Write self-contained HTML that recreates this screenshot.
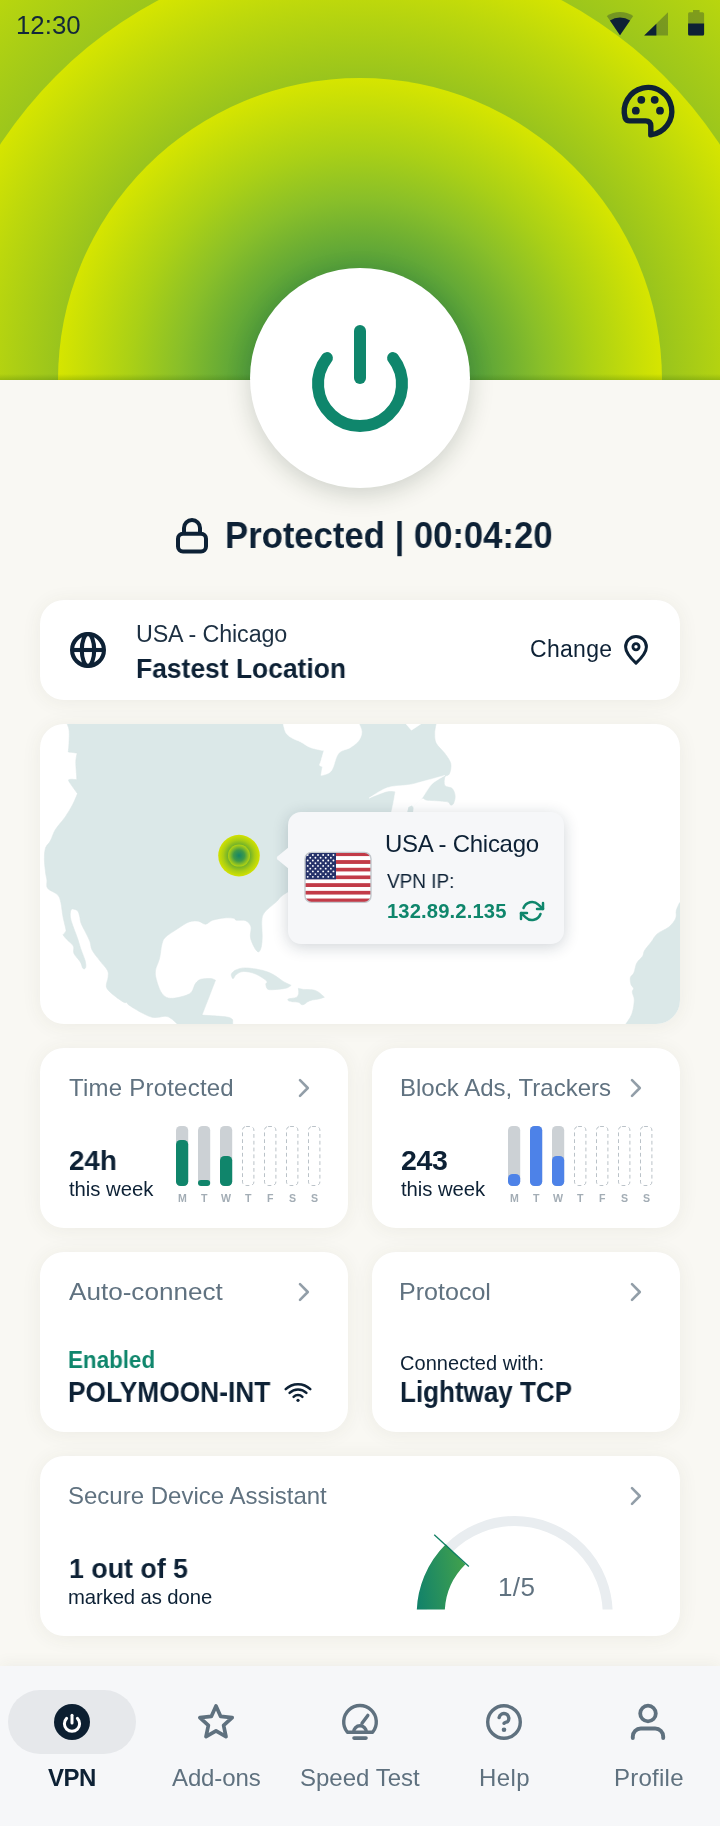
<!DOCTYPE html>
<html><head><meta charset="utf-8"><title>VPN</title>
<style>
*{margin:0;padding:0;box-sizing:border-box}
html,body{width:720px;height:1826px;overflow:hidden}
body{background:#f9f8f3;font-family:"Liberation Sans",sans-serif;position:relative;color:#0f2336}
.t{position:absolute;white-space:nowrap;line-height:1;will-change:transform}
.abs{position:absolute}
.card{position:absolute;background:#fff;border-radius:24px;box-shadow:0 2px 20px rgba(70,70,40,0.07)}
svg{position:absolute;overflow:visible}
</style></head>
<body>
<svg style="left:0;top:0" width="720" height="380" viewBox="0 0 720 380">
<defs>
<radialGradient id="g1" gradientUnits="userSpaceOnUse" cx="360" cy="380" r="302">
<stop offset="0" stop-color="#2e8846"/><stop offset="0.36" stop-color="#519e3d"/><stop offset="0.6" stop-color="#89bf29"/><stop offset="0.76" stop-color="#aad016"/><stop offset="1" stop-color="#d6e500"/>
</radialGradient>
<radialGradient id="g2" gradientUnits="userSpaceOnUse" cx="360" cy="380" r="430">
<stop offset="0.5" stop-color="#6aa92e"/><stop offset="0.702" stop-color="#99c41d"/><stop offset="0.884" stop-color="#bdd80c"/><stop offset="1" stop-color="#d6e500"/>
</radialGradient>
<radialGradient id="g3" gradientUnits="userSpaceOnUse" cx="360" cy="380" r="570">
<stop offset="0.6" stop-color="#80b626"/><stop offset="0.754" stop-color="#9cc61c"/><stop offset="0.918" stop-color="#b8d60e"/><stop offset="1" stop-color="#c6dd08"/>
</radialGradient>
<linearGradient id="hb" x1="0" y1="0" x2="0" y2="1"><stop offset="0" stop-color="#2c5a00" stop-opacity="0"/><stop offset="1" stop-color="#2c5a00" stop-opacity="0.22"/></linearGradient>
<clipPath id="hc"><rect x="0" y="0" width="720" height="380"/></clipPath>
</defs>
<g clip-path="url(#hc)">
<rect x="0" y="0" width="720" height="380" fill="url(#g3)"/>
<circle cx="360" cy="380" r="430" fill="url(#g2)"/>
<circle cx="360" cy="380" r="302" fill="url(#g1)"/>
<rect x="0" y="374" width="720" height="6" fill="url(#hb)"/>
</g>
</svg>
<div class="t" style="left:15.63px;top:13.09px;font-size:25px;color:#13283a;transform:scaleX(1.0326);transform-origin:0 0;">12:30</div>
<svg style="left:600px;top:0" width="120" height="50" viewBox="600 0 120 50">
<path d="M620 35.2 L606.8 16.0 A23.3 23.3 0 0 1 633.2 16.0 Z" fill="#0d2135" fill-opacity="0.3"/>
<path d="M620 35.2 L609.9 20.6 A17.7 17.7 0 0 1 630.1 20.6 Z" fill="#0d2135"/>
<path d="M644.2 35.6 L668 35.6 L668 12.3 Z" fill="#0d2135" fill-opacity="0.3"/>
<path d="M644.2 35.6 L656.4 35.6 L656.4 23.7 Z" fill="#0d2135"/>
<path d="M693 10 h6.6 v2.3 h3 a1.5 1.5 0 0 1 1.5 1.5 v20.3 a1.5 1.5 0 0 1 -1.5 1.5 h-13 a1.5 1.5 0 0 1 -1.5 -1.5 v-20.3 a1.5 1.5 0 0 1 1.5 -1.5 h3.4 Z" fill="#0d2135" fill-opacity="0.3"/>
<path d="M688.1 23.5 h16 v10.6 a1.5 1.5 0 0 1 -1.5 1.5 h-13 a1.5 1.5 0 0 1 -1.5 -1.5 Z" fill="#0d2135"/>
</svg>
<svg style="left:608px;top:72px" width="80" height="80" viewBox="608 72 80 80">
<path d="M650.8 134.9 A23.8 23.8 0 1 0 625.2 118.0 Q626.3 120.9 629.5 120.9 L645.6 120.9 Q650.8 120.9 650.8 126.1 Z" fill="none" stroke="#0d2135" stroke-width="5.4" stroke-linejoin="round"/>
<circle cx="641.3" cy="99.8" r="3.9" fill="#0d2135"/><circle cx="654.7" cy="99.8" r="3.9" fill="#0d2135"/>
<circle cx="635.8" cy="110.7" r="3.9" fill="#0d2135"/><circle cx="660" cy="110.7" r="3.9" fill="#0d2135"/>
</svg>
<div class="abs" style="left:250px;top:268px;width:220px;height:220px;border-radius:50%;background:#fff;box-shadow:0 6px 24px rgba(20,40,20,0.19)"></div>
<svg style="left:250px;top:268px" width="220" height="220" viewBox="250 268 220 220">
<path d="M360 331 V378" stroke="#0f866c" stroke-width="12" stroke-linecap="round" fill="none"/>
<path d="M326.9 358.1 A42 42 0 1 0 393.1 358.1" stroke="#0f866c" stroke-width="12" stroke-linecap="round" fill="none"/>
</svg>
<svg style="left:170px;top:510px" width="50" height="50" viewBox="170 510 50 50">
<rect x="178" y="533.7" width="28" height="17.8" rx="5" fill="none" stroke="#0d2135" stroke-width="4"/>
<path d="M184 534 V528 a8 8 0 0 1 16 0 V534" fill="none" stroke="#0d2135" stroke-width="4"/>
</svg>
<div class="t" style="left:224.58px;top:516.68px;font-size:37.3px;color:#0d2135;font-weight:700;transform:scaleX(0.9293);transform-origin:0 0;">Protected | 00:04:20</div>
<div class="card" style="left:40px;top:600px;width:640px;height:100px"></div>
<svg style="left:60px;top:622px" width="56" height="56" viewBox="60 622 56 56">
<g fill="none" stroke="#0d2135" stroke-width="4.1">
<circle cx="88" cy="650" r="15.95"/>
<path d="M72 650 H104"/>
<ellipse cx="88" cy="650" rx="6.2" ry="15.95"/>
</g></svg>
<div class="t" style="left:135.55px;top:622.53px;font-size:23.3px;color:#1d3042;letter-spacing:-0.129px;">USA - Chicago</div>
<div class="t" style="left:135.81px;top:655.14px;font-size:27.3px;color:#0d2135;font-weight:700;transform:scaleX(0.9683);transform-origin:0 0;">Fastest Location</div>
<div class="t" style="left:530.05px;top:637.78px;font-size:23px;color:#0d2135;letter-spacing:0.290px;">Change</div>
<svg style="left:620px;top:630px" width="32" height="40" viewBox="620 630 32 40">
<path d="M636 663.2 C628 655.5 625.6 651 625.6 646.9 A10.4 10.4 0 0 1 646.4 646.9 C646.4 651 644 655.5 636 663.2 Z" fill="none" stroke="#0d2135" stroke-width="3" stroke-linejoin="round"/>
<circle cx="636" cy="646.8" r="3.1" fill="none" stroke="#0d2135" stroke-width="2.8"/>
</svg>
<div class="card" style="left:40px;top:724px;width:640px;height:300px;overflow:hidden"></div>
<svg style="left:40px;top:724px" width="640" height="300" viewBox="40 724 640 300">
<defs><clipPath id="mc"><rect x="40" y="724" width="640" height="300" rx="24"/></clipPath>
<radialGradient id="mk1"><stop offset="0.45" stop-color="#5aa634"/><stop offset="0.75" stop-color="#a9cd14"/><stop offset="1" stop-color="#d2e200"/></radialGradient>
<radialGradient id="mk2"><stop offset="0" stop-color="#148468"/><stop offset="0.5" stop-color="#3f9a48"/><stop offset="1" stop-color="#b4d410"/></radialGradient>
</defs>
<g clip-path="url(#mc)">
<g fill="#dbe8e8" stroke="#dbe8e8" stroke-width="0.6" stroke-linejoin="round">
<path d="M67.1,715.0 C67.1,715.0 67.1,723.9 67.1,723.9 C67.1,723.9 68.9,727.6 69.2,731.1 C69.5,734.6 69.1,741.5 68.9,745.0 C68.7,748.5 68.2,751.9 68.2,751.9 C68.2,751.9 77.2,753.1 77.2,753.1 C77.2,753.1 75.9,758.4 75.8,761.7 C75.7,765.0 76.2,769.8 76.4,772.8 C76.6,775.8 76.8,779.7 76.8,779.7 C76.8,779.7 71.2,779.0 69.9,779.4 C68.6,779.8 67.9,779.4 69.2,781.8 C70.5,784.2 77.5,793.6 77.5,793.6 C77.5,793.6 74.7,800.8 72.6,804.7 C70.5,808.6 67.9,813.0 65.0,817.2 C62.1,821.4 57.7,825.8 55.3,829.7 C52.9,833.6 52.0,837.8 50.4,840.8 C48.8,843.8 46.6,844.8 45.6,847.8 C44.6,850.8 44.4,854.7 44.4,858.9 C44.4,863.1 45.2,869.3 45.6,872.8 C46.0,876.3 46.6,877.4 46.9,880.0 C47.2,882.6 45.9,885.9 47.6,888.3 C49.4,890.7 55.2,892.3 57.4,894.6 C59.6,896.9 59.9,898.6 60.8,902.2 C61.7,905.8 62.1,911.7 62.9,916.1 C63.7,920.5 65.2,926.1 65.7,928.6 C66.2,931.1 66.2,930.4 65.7,931.4 C65.2,932.4 62.9,934.9 62.9,934.9 C62.9,934.9 65.4,937.9 67.1,939.7 C68.8,941.6 72.1,943.7 73.3,946.0 C74.5,948.3 72.8,951.0 74.0,953.6 C75.2,956.2 78.9,959.6 80.3,961.9 C81.7,964.2 81.8,966.3 82.4,967.5 C83.1,968.7 83.6,969.0 84.2,968.9 C84.8,968.8 85.7,968.2 85.8,966.8 C85.9,965.4 85.9,963.5 85.1,960.6 C84.3,957.7 82.3,953.1 81.0,949.4 C79.7,945.7 79.0,942.7 77.5,938.3 C76.0,933.9 73.1,926.8 71.9,923.1 C70.7,919.4 70.5,918.2 70.3,916.1 C70.1,914.0 70.4,911.8 70.8,910.6 C71.2,909.4 71.5,908.9 72.6,908.9 C73.7,908.9 76.3,909.6 77.5,910.8 C78.7,912.0 79.0,914.0 79.6,916.1 C80.2,918.2 80.0,920.3 81.0,923.1 C82.0,925.9 84.3,929.7 85.8,932.8 C87.3,935.9 89.0,938.9 90.0,941.8 C91.0,944.7 90.5,947.0 92.1,950.1 C93.7,953.2 97.2,957.2 99.7,960.6 C102.2,964.0 106.0,967.5 107.4,970.3 C108.8,973.1 108.3,974.4 108.1,977.2 C107.9,980.0 105.7,984.1 106.4,986.9 C107.1,989.7 109.4,991.4 112.2,993.9 C115.0,996.4 120.9,1000.6 123.3,1002.0 C125.7,1003.4 125.9,1002.0 126.8,1002.5 C127.7,1003.0 126.4,1003.3 128.9,1005.0 C131.4,1006.7 137.7,1010.7 141.8,1012.8 C145.9,1014.9 149.7,1016.9 153.6,1017.5 C157.5,1018.1 162.4,1016.1 165.4,1016.3 C168.4,1016.5 169.3,1017.4 171.3,1018.7 C173.3,1020.0 177.2,1023.9 177.2,1023.9 C177.2,1023.9 177.2,1032.0 177.2,1032.0 C177.2,1032.0 232.7,1032.0 232.7,1032.0 C232.7,1032.0 232.7,1019.9 232.7,1019.9 C232.7,1019.9 231.9,1017.8 226.8,1017.0 C221.7,1016.2 202.0,1015.1 202.0,1015.1 C202.0,1015.1 215.5,980.2 215.5,980.2 C215.5,980.2 212.8,978.6 210.3,978.5 C207.9,978.4 203.2,978.5 200.8,979.3 C198.4,980.1 197.1,981.3 195.6,983.3 C194.1,985.3 193.4,989.5 191.9,991.5 C190.4,993.5 189.5,994.0 186.7,995.1 C183.9,996.2 178.2,997.7 174.9,998.1 C171.6,998.5 169.0,998.5 166.6,997.4 C164.2,996.3 162.4,994.5 160.7,991.5 C159.0,988.5 157.3,983.2 156.4,979.7 C155.5,976.2 155.0,973.8 155.5,970.3 C156.0,966.8 158.4,962.8 159.5,958.5 C160.6,954.2 160.9,947.8 161.9,944.3 C162.9,940.8 162.9,939.8 165.4,937.2 C167.9,934.7 173.3,931.5 177.2,929.0 C181.1,926.5 185.4,923.2 189.0,921.9 C192.6,920.6 195.7,920.8 198.5,921.2 C201.3,921.6 203.2,924.4 205.6,924.2 C207.9,924.0 209.4,921.2 212.6,920.2 C215.8,919.2 220.9,918.2 224.5,917.9 C228.1,917.6 231.9,917.9 233.9,918.3 C235.9,918.7 234.3,919.8 236.3,920.2 C238.3,920.6 243.3,919.6 245.7,920.7 C248.1,921.8 250.1,923.9 250.9,926.6 C251.7,929.4 249.9,933.9 250.4,937.2 C250.9,940.6 252.7,944.2 254.0,946.7 C255.3,949.2 257.0,951.7 258.2,951.9 C259.4,952.1 260.3,950.3 261.0,947.9 C261.7,945.5 262.1,941.7 262.2,937.2 C262.3,932.7 261.4,924.8 261.8,920.7 C262.2,916.6 262.2,915.5 264.6,912.4 C267.0,909.2 272.7,905.1 276.4,901.8 C280.1,898.5 278.1,897.7 287.0,892.4 C295.9,887.1 330.0,870.0 330.0,870.0 C330.0,870.0 400.0,830.0 400.0,830.0 C400.0,830.0 412.8,807.5 412.8,807.5 C412.8,807.5 419.2,799.9 421.6,798.7 C424.0,797.5 423.3,799.7 427.4,800.2 C431.5,800.7 442.5,800.8 446.4,801.6 C450.3,802.4 449.6,804.9 450.8,805.1 C452.0,805.4 453.0,804.7 453.7,803.1 C454.4,801.5 455.4,798.2 455.1,795.8 C454.9,793.4 453.9,790.2 452.2,788.5 C450.5,786.8 446.1,787.5 444.9,785.6 C443.7,783.7 444.2,778.9 444.9,776.9 C445.6,774.9 448.3,776.1 449.3,773.9 C450.3,771.7 451.5,767.1 450.8,763.7 C450.1,760.3 447.3,756.9 444.9,753.5 C442.5,750.1 437.9,746.7 436.2,743.3 C434.5,739.9 434.7,736.4 434.7,733.1 C434.7,729.8 436.2,723.5 436.2,723.5 C436.2,723.5 436.2,715.0 436.2,715.0 C436.2,715.0 67.1,715.0 67.1,715.0 Z"/><path d="M232.0,977.4 C231.7,976.6 230.8,975.1 231.5,973.8 C232.2,972.5 233.9,970.8 236.3,969.8 C238.7,968.8 241.4,967.8 245.7,967.9 C250.0,968.0 257.5,969.1 262.2,970.3 C266.9,971.5 270.5,973.1 274.0,975.0 C277.5,976.9 280.4,979.8 283.3,981.5 C286.2,983.2 291.2,985.3 291.2,985.3 C291.2,985.3 289.1,987.3 286.7,988.0 C284.3,988.7 279.8,989.2 276.7,989.4 C273.6,989.6 269.9,990.2 268.1,989.4 C266.3,988.6 266.1,985.8 265.8,984.4 C265.5,983.0 268.3,982.7 266.5,980.9 C264.7,979.1 259.0,975.4 255.1,973.8 C251.2,972.2 246.4,971.4 243.3,971.5 C240.2,971.6 238.0,973.3 236.3,974.5 C234.7,975.7 234.1,978.0 233.4,978.5 C232.7,979.0 232.3,978.2 232.0,977.4 Z"/><path d="M298.3,988.3 C298.3,988.3 301.0,989.1 303.3,989.4 C305.6,989.6 309.8,989.4 312.2,989.8 C314.6,990.2 315.8,990.5 317.8,991.7 C319.8,992.9 324.4,997.2 324.4,997.2 C324.4,997.2 320.9,998.4 318.9,998.9 C316.9,999.4 314.0,999.5 312.2,1000.0 C310.4,1000.5 309.1,1001.0 307.8,1001.7 C306.5,1002.4 305.4,1003.7 304.4,1004.2 C303.4,1004.7 302.7,1005.0 301.7,1004.7 C300.7,1004.4 299.9,1002.7 298.3,1002.2 C296.7,1001.7 293.9,1002.0 292.2,1001.7 C290.5,1001.4 288.9,1001.1 288.3,1000.6 C287.7,1000.1 287.7,999.3 288.3,998.9 C288.9,998.5 290.8,998.6 292.2,998.3 C293.6,998.0 295.6,998.0 296.7,997.2 C297.8,996.4 298.4,994.8 298.7,993.3 C299.0,991.8 298.3,988.3 298.3,988.3 Z"/><path d="M690.0,895.0 C690.0,895.0 679.6,902.8 679.6,902.8 C679.6,902.8 676.9,908.0 676.3,910.6 C675.6,913.2 676.9,915.6 675.7,918.3 C674.5,921.0 672.0,924.4 668.9,927.0 C665.8,929.6 660.1,931.4 657.2,933.9 C654.3,936.4 653.5,939.0 651.4,941.7 C649.3,944.5 646.1,948.0 644.6,950.4 C643.1,952.8 643.9,954.1 642.6,956.2 C641.3,958.3 638.2,960.2 636.8,963.0 C635.3,965.8 635.0,970.4 633.9,972.8 C632.8,975.2 630.9,975.7 630.4,977.6 C629.9,979.5 630.5,982.6 631.0,984.4 C631.5,986.2 633.3,987.0 633.5,988.3 C633.7,989.6 632.2,990.2 632.3,992.2 C632.4,994.2 634.3,996.4 634.3,1000.0 C634.2,1003.6 633.4,1009.6 632.0,1013.6 C630.6,1017.6 626.0,1023.7 626.0,1023.7 C626.0,1023.7 626.0,1032.0 626.0,1032.0 C626.0,1032.0 690.0,1032.0 690.0,1032.0 C690.0,1032.0 690.0,895.0 690.0,895.0 Z"/>
</g>
<g fill="#fff" stroke="#fff" stroke-width="0.5" stroke-linejoin="round"><path d="M283.1,715.0 C283.1,715.0 283.1,723.5 283.1,723.5 C283.1,723.5 284.5,730.6 286.0,733.0 C287.5,735.4 289.5,736.5 291.9,738.0 C294.3,739.5 297.5,740.3 300.6,741.9 C303.8,743.5 306.9,746.2 310.8,747.7 C314.7,749.2 323.9,750.6 323.9,750.6 C323.9,750.6 321.7,758.4 321.0,760.8 C320.3,763.2 319.4,764.2 319.6,765.2 C319.9,766.2 322.5,766.6 322.5,766.6 C322.5,766.6 321.0,775.4 321.0,775.4 C321.0,775.4 328.3,774.6 331.2,771.0 C334.1,767.4 335.3,757.4 338.5,753.5 C341.7,749.6 346.8,749.9 350.2,747.7 C353.6,745.5 357.0,743.1 358.9,740.4 C360.8,737.7 361.8,734.5 361.8,731.7 C361.8,728.9 358.9,723.5 358.9,723.5 C358.9,723.5 358.9,715.0 358.9,715.0 C358.9,715.0 283.1,715.0 283.1,715.0 Z"/><path d="M405.6,715 L405.6,723.5 L411.4,730.2 L421.6,723.5 L421.6,715 Z"/><path d="M444.9,775.4 C444.9,775.4 434.7,778.2 428.9,779.8 C423.1,781.3 416.0,783.6 409.9,784.7 C403.8,785.8 397.0,785.6 392.4,786.5 C387.8,787.4 386.1,788.1 382.2,790.0 C378.3,791.9 369.1,798.1 369.1,798.1 C369.1,798.1 382.2,792.5 386.6,791.4 C391.0,790.3 395.4,791.4 395.4,791.4 C395.4,791.4 394.6,796.4 393.9,800.2 C393.2,804.0 391.0,814.0 391.0,814.0 C391.0,814.0 412.8,814.0 412.8,814.0 C412.8,814.0 412.8,807.5 412.8,807.5 C412.8,807.5 419.2,801.6 421.6,798.7 C424.0,795.8 425.4,792.7 427.4,790.0 C429.3,787.3 430.4,785.1 433.3,782.7 C436.2,780.3 444.9,775.4 444.9,775.4 Z"/></g>
<path d="M407,813 L408.5,807 L412,805.5 L413.5,808 L413,813 Z" fill="#dbe8e8"/>
<circle cx="239" cy="855.6" r="20.8" fill="url(#mk1)"/>
<circle cx="239" cy="855.6" r="11" fill="url(#mk2)"/>
</g></svg>
<div class="abs" style="left:288px;top:812px;width:276px;height:131.5px;border-radius:13px;background:#f6f7f9;box-shadow:0 3px 16px rgba(20,40,60,0.2)"></div>
<svg style="left:270px;top:840px" width="20" height="34" viewBox="270 840 20 34"><path d="M289 847 L277.4 856.6 Q276 858 277.4 859.4 L289 869 Z" fill="#f6f7f9"/></svg>
<svg style="left:300px;top:848px" width="76" height="60" viewBox="300 848 76 60">
<defs><clipPath id="fc"><rect x="305" y="852.4" width="66" height="50" rx="6.5"/></clipPath></defs>
<g clip-path="url(#fc)"><rect x="305" y="852.40" width="66" height="3.90" fill="#c23b48"/><rect x="305" y="856.25" width="66" height="3.90" fill="#fff"/><rect x="305" y="860.09" width="66" height="3.90" fill="#c23b48"/><rect x="305" y="863.94" width="66" height="3.90" fill="#fff"/><rect x="305" y="867.78" width="66" height="3.90" fill="#c23b48"/><rect x="305" y="871.63" width="66" height="3.90" fill="#fff"/><rect x="305" y="875.48" width="66" height="3.90" fill="#c23b48"/><rect x="305" y="879.32" width="66" height="3.90" fill="#fff"/><rect x="305" y="883.17" width="66" height="3.90" fill="#c23b48"/><rect x="305" y="887.02" width="66" height="3.90" fill="#fff"/><rect x="305" y="890.86" width="66" height="3.90" fill="#c23b48"/><rect x="305" y="894.71" width="66" height="3.90" fill="#fff"/><rect x="305" y="898.55" width="66" height="3.90" fill="#c23b48"/><rect x="305" y="852.4" width="31" height="26.92" fill="#26326a"/><circle cx="307.70" cy="855.00" r="0.95" fill="#fff"/><circle cx="312.85" cy="855.00" r="0.95" fill="#fff"/><circle cx="318.00" cy="855.00" r="0.95" fill="#fff"/><circle cx="323.15" cy="855.00" r="0.95" fill="#fff"/><circle cx="328.30" cy="855.00" r="0.95" fill="#fff"/><circle cx="333.45" cy="855.00" r="0.95" fill="#fff"/><circle cx="310.27" cy="857.73" r="0.95" fill="#fff"/><circle cx="315.43" cy="857.73" r="0.95" fill="#fff"/><circle cx="320.57" cy="857.73" r="0.95" fill="#fff"/><circle cx="325.73" cy="857.73" r="0.95" fill="#fff"/><circle cx="330.88" cy="857.73" r="0.95" fill="#fff"/><circle cx="307.70" cy="860.46" r="0.95" fill="#fff"/><circle cx="312.85" cy="860.46" r="0.95" fill="#fff"/><circle cx="318.00" cy="860.46" r="0.95" fill="#fff"/><circle cx="323.15" cy="860.46" r="0.95" fill="#fff"/><circle cx="328.30" cy="860.46" r="0.95" fill="#fff"/><circle cx="333.45" cy="860.46" r="0.95" fill="#fff"/><circle cx="310.27" cy="863.19" r="0.95" fill="#fff"/><circle cx="315.43" cy="863.19" r="0.95" fill="#fff"/><circle cx="320.57" cy="863.19" r="0.95" fill="#fff"/><circle cx="325.73" cy="863.19" r="0.95" fill="#fff"/><circle cx="330.88" cy="863.19" r="0.95" fill="#fff"/><circle cx="307.70" cy="865.92" r="0.95" fill="#fff"/><circle cx="312.85" cy="865.92" r="0.95" fill="#fff"/><circle cx="318.00" cy="865.92" r="0.95" fill="#fff"/><circle cx="323.15" cy="865.92" r="0.95" fill="#fff"/><circle cx="328.30" cy="865.92" r="0.95" fill="#fff"/><circle cx="333.45" cy="865.92" r="0.95" fill="#fff"/><circle cx="310.27" cy="868.65" r="0.95" fill="#fff"/><circle cx="315.43" cy="868.65" r="0.95" fill="#fff"/><circle cx="320.57" cy="868.65" r="0.95" fill="#fff"/><circle cx="325.73" cy="868.65" r="0.95" fill="#fff"/><circle cx="330.88" cy="868.65" r="0.95" fill="#fff"/><circle cx="307.70" cy="871.38" r="0.95" fill="#fff"/><circle cx="312.85" cy="871.38" r="0.95" fill="#fff"/><circle cx="318.00" cy="871.38" r="0.95" fill="#fff"/><circle cx="323.15" cy="871.38" r="0.95" fill="#fff"/><circle cx="328.30" cy="871.38" r="0.95" fill="#fff"/><circle cx="333.45" cy="871.38" r="0.95" fill="#fff"/><circle cx="310.27" cy="874.11" r="0.95" fill="#fff"/><circle cx="315.43" cy="874.11" r="0.95" fill="#fff"/><circle cx="320.57" cy="874.11" r="0.95" fill="#fff"/><circle cx="325.73" cy="874.11" r="0.95" fill="#fff"/><circle cx="330.88" cy="874.11" r="0.95" fill="#fff"/><circle cx="307.70" cy="876.84" r="0.95" fill="#fff"/><circle cx="312.85" cy="876.84" r="0.95" fill="#fff"/><circle cx="318.00" cy="876.84" r="0.95" fill="#fff"/><circle cx="323.15" cy="876.84" r="0.95" fill="#fff"/><circle cx="328.30" cy="876.84" r="0.95" fill="#fff"/><circle cx="333.45" cy="876.84" r="0.95" fill="#fff"/></g>
<rect x="305" y="852.4" width="66" height="50" rx="6.5" fill="none" stroke="#c3c8cd" stroke-width="1.4"/>
</svg>
<div class="t" style="left:385.05px;top:831.93px;font-size:24px;color:#0d2135;letter-spacing:-0.275px;">USA - Chicago</div>
<div class="t" style="left:387.00px;top:871.74px;font-size:19.5px;color:#0d2135;transform:scaleX(0.9712);transform-origin:0 0;">VPN IP:</div>
<div class="t" style="left:386.75px;top:901.15px;font-size:20.2px;color:#0f866c;font-weight:700;letter-spacing:0.136px;">132.89.2.135</div>
<svg style="left:520px;top:899.2px" width="24" height="24" viewBox="0 0 24 24" fill="none" stroke="#0f866c" stroke-width="2.5" stroke-linecap="round" stroke-linejoin="round">
<polyline points="23 4 23 10 17 10"/><polyline points="1 20 1 14 7 14"/>
<path d="M3.51 9a9 9 0 0 1 14.85-3.36L23 10M1 14l4.64 4.36A9 9 0 0 0 20.49 15"/></svg>
<div class="card" style="left:40px;top:1048px;width:308px;height:180px"></div>
<div class="card" style="left:372px;top:1048px;width:308px;height:180px"></div>
<div class="t" style="left:68.50px;top:1075.93px;font-size:24px;color:#607280;letter-spacing:0.219px;">Time Protected</div>
<svg style="left:296px;top:1075.8px" width="20" height="24" viewBox="296 1075.8 20 24"><path d="M300 1080.0 L307.8 1087.8 L300 1095.6" fill="none" stroke="#929ea8" stroke-width="2.6" stroke-linecap="round" stroke-linejoin="round"/></svg>
<div class="t" style="left:68.53px;top:1146.12px;font-size:28.5px;color:#0d2135;font-weight:700;transform:scaleX(0.9742);transform-origin:0 0;">24h</div>
<div class="t" style="left:68.75px;top:1179.07px;font-size:20.3px;color:#0d2135;letter-spacing:-0.025px;">this week</div>
<svg style="left:173.8px;top:1123.7px" width="150" height="64" viewBox="173.8 1123.7 150 64"><rect x="175.8" y="1125.7" width="12.2" height="60" rx="4.6" fill="#ccd1d5"/><rect x="175.8" y="1139.7" width="12.2" height="46" rx="4.6" fill="#10856b"/><rect x="197.8" y="1125.7" width="12.2" height="60" rx="4.6" fill="#ccd1d5"/><rect x="197.8" y="1179.7" width="12.2" height="6" rx="3.0" fill="#10856b"/><rect x="219.8" y="1125.7" width="12.2" height="60" rx="4.6" fill="#ccd1d5"/><rect x="219.8" y="1155.7" width="12.2" height="30" rx="4.6" fill="#10856b"/><rect x="242.3" y="1126.2" width="11.4" height="59" rx="3.6" fill="none" stroke="#bac2c8" stroke-width="1" stroke-dasharray="3.8 3"/><rect x="264.3" y="1126.2" width="11.4" height="59" rx="3.6" fill="none" stroke="#bac2c8" stroke-width="1" stroke-dasharray="3.8 3"/><rect x="286.3" y="1126.2" width="11.4" height="59" rx="3.6" fill="none" stroke="#bac2c8" stroke-width="1" stroke-dasharray="3.8 3"/><rect x="308.3" y="1126.2" width="11.4" height="59" rx="3.6" fill="none" stroke="#bac2c8" stroke-width="1" stroke-dasharray="3.8 3"/></svg>
<div class="t" style="left:177.53px;top:1193.28px;font-size:10.6px;color:#a3adb5;font-weight:700;">M</div>
<div class="t" style="left:200.78px;top:1193.28px;font-size:10.6px;color:#a3adb5;font-weight:700;">T</div>
<div class="t" style="left:220.90px;top:1193.28px;font-size:10.6px;color:#a3adb5;font-weight:700;">W</div>
<div class="t" style="left:244.78px;top:1193.28px;font-size:10.6px;color:#a3adb5;font-weight:700;">T</div>
<div class="t" style="left:266.53px;top:1193.28px;font-size:10.6px;color:#a3adb5;font-weight:700;">F</div>
<div class="t" style="left:288.53px;top:1193.28px;font-size:10.6px;color:#a3adb5;font-weight:700;">S</div>
<div class="t" style="left:310.53px;top:1193.28px;font-size:10.6px;color:#a3adb5;font-weight:700;">S</div>
<div class="t" style="left:399.50px;top:1075.93px;font-size:24px;color:#607280;letter-spacing:0.017px;">Block Ads, Trackers</div>
<svg style="left:628px;top:1075.8px" width="20" height="24" viewBox="628 1075.8 20 24"><path d="M632 1080.0 L639.8 1087.8 L632 1095.6" fill="none" stroke="#929ea8" stroke-width="2.6" stroke-linecap="round" stroke-linejoin="round"/></svg>
<div class="t" style="left:400.50px;top:1146.12px;font-size:28.5px;color:#0d2135;font-weight:700;letter-spacing:-0.400px;">243</div>
<div class="t" style="left:400.75px;top:1179.07px;font-size:20.3px;color:#0d2135;letter-spacing:-0.062px;">this week</div>
<svg style="left:505.8px;top:1123.7px" width="150" height="64" viewBox="505.8 1123.7 150 64"><rect x="507.8" y="1125.7" width="12.2" height="60" rx="4.6" fill="#ccd1d5"/><rect x="507.8" y="1173.7" width="12.2" height="12" rx="4.6" fill="#4d82e8"/><rect x="529.8" y="1125.7" width="12.2" height="60" rx="4.6" fill="#ccd1d5"/><rect x="529.8" y="1125.7" width="12.2" height="60" rx="4.6" fill="#4d82e8"/><rect x="551.8" y="1125.7" width="12.2" height="60" rx="4.6" fill="#ccd1d5"/><rect x="551.8" y="1155.7" width="12.2" height="30" rx="4.6" fill="#4d82e8"/><rect x="574.3" y="1126.2" width="11.4" height="59" rx="3.6" fill="none" stroke="#bac2c8" stroke-width="1" stroke-dasharray="3.8 3"/><rect x="596.3" y="1126.2" width="11.4" height="59" rx="3.6" fill="none" stroke="#bac2c8" stroke-width="1" stroke-dasharray="3.8 3"/><rect x="618.3" y="1126.2" width="11.4" height="59" rx="3.6" fill="none" stroke="#bac2c8" stroke-width="1" stroke-dasharray="3.8 3"/><rect x="640.3" y="1126.2" width="11.4" height="59" rx="3.6" fill="none" stroke="#bac2c8" stroke-width="1" stroke-dasharray="3.8 3"/></svg>
<div class="t" style="left:509.52px;top:1193.28px;font-size:10.6px;color:#a3adb5;font-weight:700;">M</div>
<div class="t" style="left:532.77px;top:1193.28px;font-size:10.6px;color:#a3adb5;font-weight:700;">T</div>
<div class="t" style="left:552.90px;top:1193.28px;font-size:10.6px;color:#a3adb5;font-weight:700;">W</div>
<div class="t" style="left:576.77px;top:1193.28px;font-size:10.6px;color:#a3adb5;font-weight:700;">T</div>
<div class="t" style="left:598.52px;top:1193.28px;font-size:10.6px;color:#a3adb5;font-weight:700;">F</div>
<div class="t" style="left:620.52px;top:1193.28px;font-size:10.6px;color:#a3adb5;font-weight:700;">S</div>
<div class="t" style="left:642.52px;top:1193.28px;font-size:10.6px;color:#a3adb5;font-weight:700;">S</div>
<div class="card" style="left:40px;top:1252px;width:308px;height:180px"></div>
<div class="card" style="left:372px;top:1252px;width:308px;height:180px"></div>
<div class="t" style="left:69.00px;top:1279.93px;font-size:24px;color:#607280;transform:scaleX(1.0867);transform-origin:0 0;">Auto-connect</div>
<svg style="left:296px;top:1279.8px" width="20" height="24" viewBox="296 1279.8 20 24"><path d="M300 1284.0 L307.8 1291.8 L300 1299.6" fill="none" stroke="#929ea8" stroke-width="2.6" stroke-linecap="round" stroke-linejoin="round"/></svg>
<div class="t" style="left:68.04px;top:1348.78px;font-size:23px;color:#0f866c;font-weight:700;transform:scaleX(0.9734);transform-origin:0 0;">Enabled</div>
<div class="t" style="left:67.68px;top:1377.70px;font-size:29px;color:#0d2135;font-weight:700;transform:scaleX(0.9078);transform-origin:0 0;">POLYMOON-INT</div>
<svg style="left:280px;top:1378px" width="36" height="28" viewBox="280 1378 36 28">
<g fill="none" stroke="#0d2135" stroke-width="2.5" stroke-linecap="round">
<path d="M285.7 1389.2 A17.5 17.5 0 0 1 310.3 1389.2"/>
<path d="M289.6 1392.9 A12 12 0 0 1 306.4 1392.9"/>
<path d="M293.6 1396.8 A6.4 6.4 0 0 1 302.4 1396.8"/>
</g><circle cx="298" cy="1400.3" r="1.6" fill="#0d2135"/></svg>
<div class="t" style="left:399.41px;top:1279.93px;font-size:24px;color:#607280;transform:scaleX(1.0438);transform-origin:0 0;">Protocol</div>
<svg style="left:628px;top:1279.8px" width="20" height="24" viewBox="628 1279.8 20 24"><path d="M632 1284.0 L639.8 1291.8 L632 1299.6" fill="none" stroke="#929ea8" stroke-width="2.6" stroke-linecap="round" stroke-linejoin="round"/></svg>
<div class="t" style="left:400.00px;top:1353.32px;font-size:20px;color:#0d2135;letter-spacing:0.046px;">Connected with:</div>
<div class="t" style="left:399.71px;top:1377.70px;font-size:29px;color:#0d2135;font-weight:700;transform:scaleX(0.8970);transform-origin:0 0;">Lightway TCP</div>
<div class="card" style="left:40px;top:1456px;width:640px;height:180px"></div>
<div class="t" style="left:68.00px;top:1483.93px;font-size:24px;color:#607280;">Secure Device Assistant</div>
<svg style="left:628px;top:1483.8px" width="20" height="24" viewBox="628 1483.8 20 24"><path d="M632 1488.0 L639.8 1495.8 L632 1503.6" fill="none" stroke="#929ea8" stroke-width="2.6" stroke-linecap="round" stroke-linejoin="round"/></svg>
<div class="t" style="left:68.86px;top:1554.12px;font-size:28.5px;color:#0d2135;font-weight:700;transform:scaleX(0.9395);transform-origin:0 0;">1 out of 5</div>
<div class="t" style="left:67.75px;top:1587.07px;font-size:20.3px;color:#0d2135;letter-spacing:-0.096px;">marked as done</div>
<svg style="left:400px;top:1500px" width="230" height="110" viewBox="400 1500 230 110">
<defs><clipPath id="gc"><rect x="400" y="1500" width="230" height="109.6"/></clipPath>
<linearGradient id="gg" gradientUnits="userSpaceOnUse" x1="417" y1="1600" x2="474" y2="1592"><stop offset="0" stop-color="#12826a"/><stop offset="1" stop-color="#46a44a"/></linearGradient></defs>
<g clip-path="url(#gc)">
<circle cx="514.7" cy="1614.0" r="93" fill="none" stroke="#e9edf0" stroke-width="10"/>
<path d="M416.70 1620.00 L416.70 1614.00 A98 98 0 0 1 445.77 1544.34 L465.46 1564.24 A70 70 0 0 0 444.70 1614.00 L444.70 1620.00 Z" fill="url(#gg)"/>
<path d="M434.24 1534.66 L468.85 1566.52" stroke="#0f7f63" stroke-width="1.3"/>
</g></svg>
<div class="t" style="left:497.50px;top:1574.24px;font-size:26px;color:#607280;letter-spacing:0.375px;">1/5</div>
<div class="abs" style="left:0;top:1666px;width:720px;height:160px;background:#f6f7f9;box-shadow:0 -3px 14px rgba(60,60,40,0.05)"></div>
<div class="abs" style="left:8px;top:1690px;width:128px;height:64px;border-radius:32px;background:#e6e8eb"></div>
<svg style="left:0;top:1690px" width="720" height="64" viewBox="0 1690 720 64">
<circle cx="72" cy="1722" r="18" fill="#0c1f31"/>
<g fill="none" stroke="#fff" stroke-width="3" stroke-linecap="round"><path d="M72 1715.2 V1723"/><path d="M66.6 1718.4 A7.6 7.6 0 1 0 77.4 1718.4"/></g>
<g fill="none" stroke="#5f717f" stroke-width="3.4" stroke-linecap="round" stroke-linejoin="round">
<path d="M216.00 1705.90 L220.70 1716.43 L232.17 1717.65 L223.61 1725.37 L225.99 1736.65 L216.00 1730.90 L206.01 1736.65 L208.39 1725.37 L199.83 1717.65 L211.30 1716.43 Z" stroke-width="3.7"/>
<path d="M347.4 1732.2 A16.3 16.3 0 1 1 372.6 1732.2 Z"/>
<path d="M353.6 1732.2 A6.4 6.4 0 0 1 366.4 1732.2"/>
<path d="M362 1723.2 L367.8 1715.4"/>
<path d="M354 1738.1 H366" stroke-width="3.6"/>
<circle cx="504" cy="1722" r="16.3"/>
<path d="M499.1 1717.6 A4.9 4.9 0 1 1 507.4 1721.9 Q504.1 1722.6 504 1723.4"/>
<circle cx="648" cy="1713.5" r="7.8" stroke-width="3.8"/>
<path d="M632.8 1738 v-1.5 a8 8 0 0 1 8 -8 h14.4 a8 8 0 0 1 8 8 v1.5" stroke-width="3.9"/>
</g>
<circle cx="504" cy="1729.8" r="2.3" fill="#5f717f"/>
</svg>
<div class="t" style="left:48.25px;top:1765.93px;font-size:24px;color:#0d2135;font-weight:700;letter-spacing:-0.500px;">VPN</div>
<div class="t" style="left:172.00px;top:1765.93px;font-size:24px;color:#5f717f;letter-spacing:-0.125px;">Add-ons</div>
<div class="t" style="left:299.50px;top:1765.93px;font-size:24px;color:#5f717f;">Speed Test</div>
<div class="t" style="left:478.50px;top:1765.93px;font-size:24px;color:#5f717f;letter-spacing:0.417px;">Help</div>
<div class="t" style="left:613.50px;top:1765.93px;font-size:24px;color:#5f717f;letter-spacing:0.250px;">Profile</div>
</body></html>
